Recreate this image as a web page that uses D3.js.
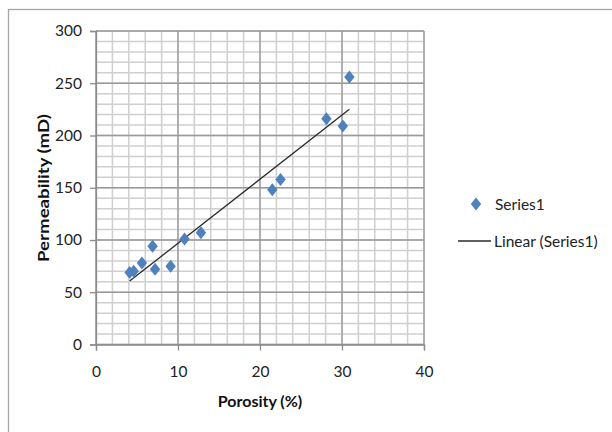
<!DOCTYPE html>
<html>
<head>
<meta charset="utf-8">
<script src="https://cdn.jsdelivr.net/npm/d3@7"></script>
<style>
  html, body { margin: 0; padding: 0; background: #fff; }
  svg { display: block; }
  text { font-family: Lato, "Open Sans", sans-serif; }
</style>
</head>
<body>
<svg id="chart" width="612" height="432"></svg>
<script>
// ---- data ----
const porosity     = [4.1, 4.6, 5.6, 6.9, 7.2, 9.1, 10.8, 12.8, 21.5, 22.5, 28.1, 30.1, 30.9];
const permeability = [69, 70, 78, 94, 72, 75, 101, 107, 148, 158, 216, 209, 256];
const xTicks = [0, 10, 20, 30, 40];
const yTicks = [0, 50, 100, 150, 200, 250, 300];
const seriesName = "Series1";
const trendName = "Linear (Series1)";
const xTitle = "Porosity (%)";
const yTitle = "Permeability (mD)";

(function () {
// ---- layout ----
const svg = d3.select("#chart");
const pLeft = 96, pRight = 424, pTop = 31, pBottom = 344.5;
const x = d3.scaleLinear().domain([0, 40]).range([pLeft, pRight]);
const y = d3.scaleLinear().domain([0, 300]).range([pBottom, pTop]);

// outer chart border
svg.append("rect").attr("x", 8.5).attr("y", 9.5).attr("width", 620).attr("height", 440)
  .attr("fill", "none").attr("stroke", "#a6a6a6").attr("stroke-width", 1.3);

// minor gridlines
const g = svg.append("g");
g.selectAll(".vmin").data(d3.range(0, 41, 2)).join("line")
  .attr("x1", d => x(d)).attr("x2", d => x(d)).attr("y1", y(0)).attr("y2", y(300))
  .attr("stroke", "#cfcfcf").attr("stroke-width", 1.5);
g.selectAll(".hmin").data(d3.range(0, 301, 10)).join("line")
  .attr("x1", x(0)).attr("x2", x(40)).attr("y1", d => y(d)).attr("y2", d => y(d))
  .attr("stroke", "#cfcfcf").attr("stroke-width", 1.5);
// major gridlines
g.selectAll(".vmaj").data(xTicks).join("line")
  .attr("x1", d => x(d)).attr("x2", d => x(d)).attr("y1", y(0)).attr("y2", y(300))
  .attr("stroke", "#999").attr("stroke-width", 1.3);
g.selectAll(".hmaj").data(yTicks).join("line")
  .attr("x1", x(0)).attr("x2", x(40)).attr("y1", d => y(d)).attr("y2", d => y(d))
  .attr("stroke", "#999").attr("stroke-width", 1.3);

// axes
const xAxis = svg.append("g").attr("transform", `translate(0,${pBottom})`)
  .call(d3.axisBottom(x).tickValues(xTicks).tickSize(6).tickPadding(15));
const yAxis = svg.append("g").attr("transform", `translate(${pLeft},0)`)
  .call(d3.axisLeft(y).tickValues(yTicks).tickSize(6).tickPadding(8));
[xAxis, yAxis].forEach(a => {
  a.select(".domain").attr("stroke", "#8c8c8c").attr("stroke-width", 1.3);
  a.selectAll(".tick line").attr("stroke", "#8c8c8c").attr("stroke-width", 1.3);
  a.selectAll(".tick text").attr("fill", "#222").style("font-size", "15.5px")
    .style("font-family", "Lato, 'Open Sans', sans-serif");
});

// trendline (least squares)
const n = porosity.length;
const mx = d3.mean(porosity), my = d3.mean(permeability);
let sxy = 0, sxx = 0;
for (let i = 0; i < n; i++) { sxy += (porosity[i]-mx)*(permeability[i]-my); sxx += (porosity[i]-mx)**2; }
const slope = sxy / sxx, intercept = my - slope * mx;
const xExt = d3.extent(porosity);
svg.append("line")
  .attr("x1", x(xExt[0])).attr("y1", y(intercept + slope * xExt[0]))
  .attr("x2", x(xExt[1])).attr("y2", y(intercept + slope * xExt[1]))
  .attr("stroke", "#2b2b2b").attr("stroke-width", 1.3);

// markers
const diamond = "M0,-6.5L5.2,0L0,6.5L-5.2,0Z";
svg.append("g").selectAll("path").data(porosity.map((p, i) => [p, permeability[i]])).join("path")
  .attr("d", diamond)
  .attr("transform", d => `translate(${x(d[0])},${y(d[1])})`)
  .attr("fill", "#4f81bd");

// axis titles
svg.append("text").attr("x", 260).attr("y", 407).attr("text-anchor", "middle")
  .style("font-size", "16px").style("font-weight", "bold").attr("fill", "#111").text(xTitle);
svg.append("text").attr("transform", "translate(49,188) rotate(-90)").attr("text-anchor", "middle")
  .attr("textLength", 148).attr("lengthAdjust", "spacingAndGlyphs")
  .style("font-size", "16px").style("font-weight", "bold").attr("fill", "#111").text(yTitle);

// legend
const lg = svg.append("g");
lg.append("path").attr("d", diamond).attr("transform", "translate(476,204)").attr("fill", "#4f81bd");
lg.append("text").attr("x", 495).attr("y", 209.5).style("font-size", "15.5px").attr("fill", "#222").text(seriesName);
lg.append("line").attr("x1", 458).attr("x2", 491).attr("y1", 241).attr("y2", 241)
  .attr("stroke", "#2b2b2b").attr("stroke-width", 1.3);
lg.append("text").attr("x", 494).attr("y", 246.5).style("font-size", "15.5px").attr("fill", "#222").text(trendName);
})();
</script>
</body>
</html>
